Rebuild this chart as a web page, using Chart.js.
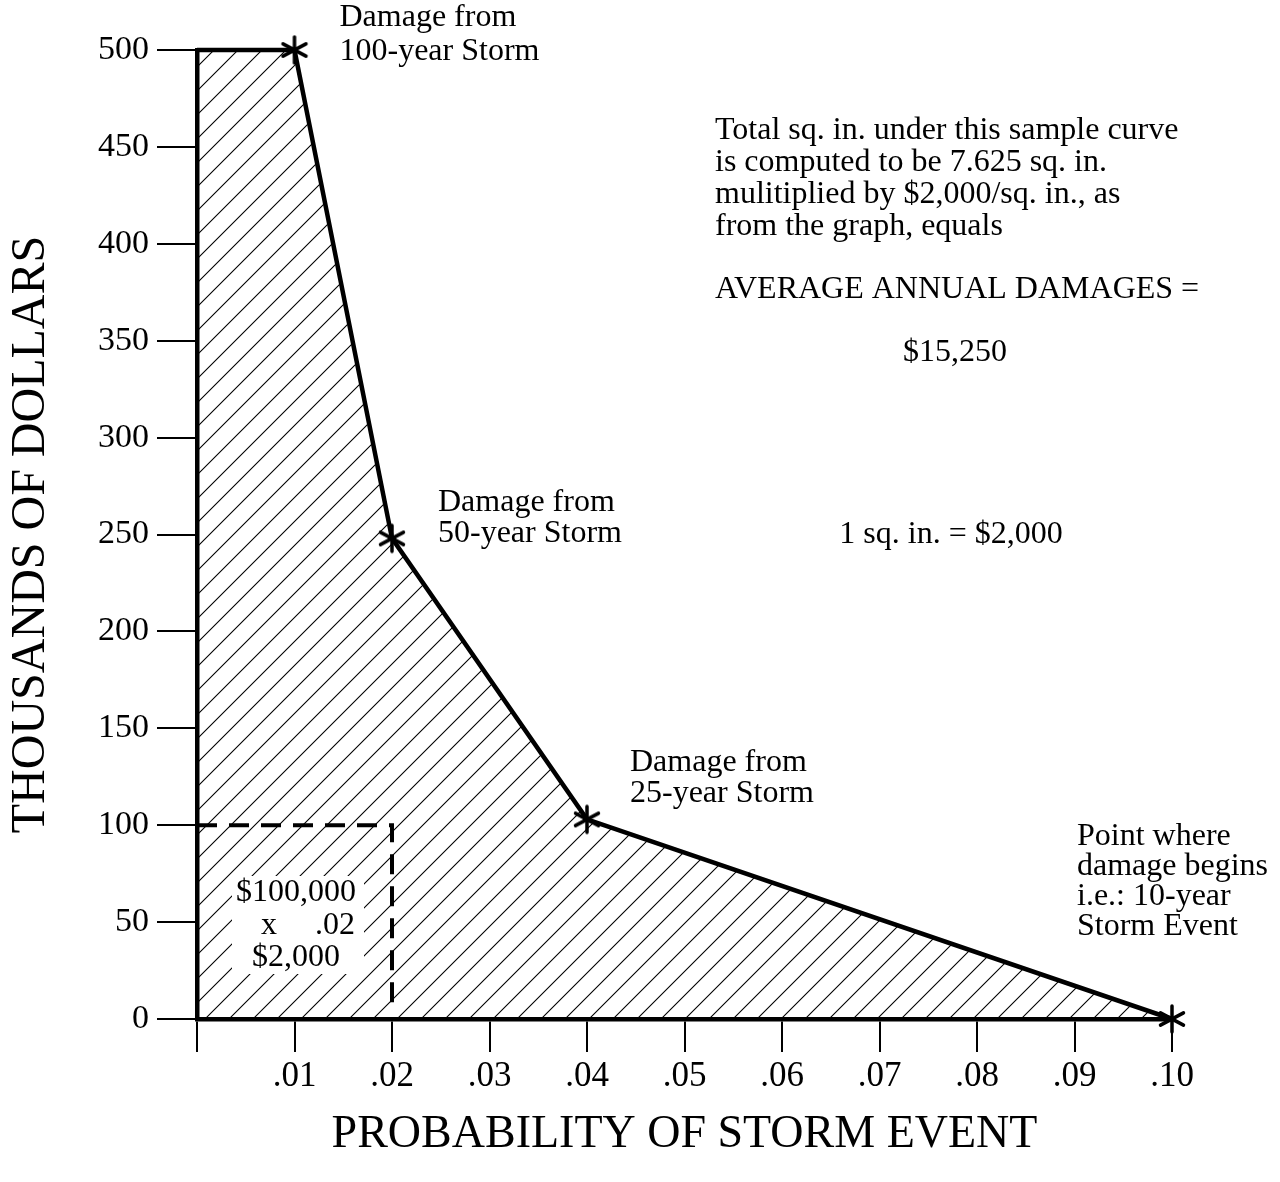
<!DOCTYPE html>
<html>
<head>
<meta charset="utf-8">
<title>Average annual damages</title>
<script src="https://cdn.jsdelivr.net/npm/chart.js@4"></script>
<style>
  body { margin: 0; background: #fff; }
  canvas { display: block; }
</style>
</head>
<body>
<canvas id="chart" width="1280" height="1182"></canvas>
<script>
// damage-probability curve (thousands of dollars)
const probabilities = [0, 0.01, 0.02, 0.04, 0.10];
const damages = [500, 500, 248, 103, 0];

// worked example: $100,000 x .02
const exampleX = [0, 0.02, 0.02];
const exampleY = [100, 100, 7];

const xTickLabels = ['', '.01', '.02', '.03', '.04', '.05', '.06', '.07', '.08', '.09', '.10'];

const stormLabels = [
  ['Damage from', '100-year Storm'],
  ['Damage from', '50-year Storm'],
  ['Damage from', '25-year Storm'],
  ['Point where', 'damage begins', 'i.e.: 10-year', 'Storm Event'],
];

const noteLines = [
  'Total sq. in. under this sample curve',
  'is computed to be 7.625 sq. in.',
  'mulitiplied by $2,000/sq. in., as',
  'from the graph, equals',
];
const totalLabel = 'AVERAGE ANNUAL DAMAGES =';
const totalValue = '$15,250';
const scaleNote = '1 sq. in. = $2,000';
const exampleLines = ['$100,000', 'x', '.02', '$2,000'];

const FONT = "'Liberation Serif', 'Times New Roman', serif";

// hatch fill for the area under the curve
const makeHatch = () => {
  const tile = document.createElement('canvas');
  tile.width = 24;
  tile.height = 24;
  const t = tile.getContext('2d');
  t.strokeStyle = '#000';
  t.lineWidth = 1.1;
  t.beginPath();
  t.moveTo(0, 24); t.lineTo(24, 0);
  t.moveTo(-2, 2); t.lineTo(2, -2);
  t.moveTo(22, 26); t.lineTo(26, 22);
  t.stroke();
  return t.createPattern(tile, 'repeat');
};

// six-armed asterisk marker
const makeStar = () => {
  const c = document.createElement('canvas');
  c.width = 32;
  c.height = 32;
  const g = c.getContext('2d');
  g.strokeStyle = '#000';
  g.lineWidth = 3.5;
  g.lineCap = 'round';
  g.translate(16, 16);
  [90, 28, -28].forEach((deg) => {
    const a = deg * Math.PI / 180;
    g.beginPath();
    g.moveTo(-Math.cos(a) * 13, -Math.sin(a) * 13);
    g.lineTo(Math.cos(a) * 13, Math.sin(a) * 13);
    g.stroke();
  });
  return c;
};

const textPlugin = {
  id: 'textNotes',
  afterDatasetsDraw(chart) {
    const { ctx, scales: { x, y } } = chart;
    ctx.save();
    ctx.fillStyle = '#000';
    ctx.font = '32px ' + FONT;
    ctx.textBaseline = 'middle';
    ctx.textAlign = 'left';

    // labels next to each storm point
    const offsets = [[45, -32, 34], [46, -36, 31], [43, -57, 31], [-95, -182, 29.7]];
    stormLabels.forEach((lines, i) => {
      const px = x.getPixelForValue(probabilities[i + 1]);
      const py = y.getPixelForValue(damages[i + 1]);
      const [dx, dy, gap] = offsets[i];
      lines.forEach((line, j) => ctx.fillText(line, px + dx, py + dy + j * gap));
    });

    // explanation block
    noteLines.forEach((line, j) => ctx.fillText(line, 715, 131 + j * 32));
    ctx.fillText(totalLabel, 715, 290);
    ctx.textAlign = 'center';
    ctx.fillText(totalValue, 955, 353);
    ctx.fillText(scaleNote, 951, 535);

    // example box
    ctx.fillStyle = '#fff';
    ctx.fillRect(232, 876, 132, 98);
    ctx.fillStyle = '#000';
    ctx.fillText(exampleLines[0], 296, 893);
    ctx.fillText(exampleLines[1], 269, 926);
    ctx.textAlign = 'right';
    ctx.fillText(exampleLines[2], 355, 926);
    ctx.textAlign = 'center';
    ctx.fillText(exampleLines[3], 296, 958);
    ctx.restore();
  },
};

const star = makeStar();

new Chart(document.getElementById('chart'), {
  type: 'line',
  data: {
    datasets: [
      {
        data: probabilities.map((p, i) => ({ x: p, y: damages[i] })),
        borderColor: '#000',
        borderWidth: 4.5,
        backgroundColor: makeHatch(),
        fill: 'origin',
        pointStyle: star,
        pointRadius: [0, 13, 13, 13, 13],
        pointHoverRadius: [0, 13, 13, 13, 13],
        tension: 0,
        clip: false,
      },
      {
        data: exampleX.map((p, i) => ({ x: p, y: exampleY[i] })),
        borderColor: '#000',
        borderWidth: 4,
        borderDash: [20, 12],
        pointRadius: 0,
        fill: false,
        tension: 0,
      },
    ],
  },
  options: {
    responsive: false,
    animation: false,
    events: [],
    layout: { padding: { top: 50, right: 108, left: 0, bottom: 0 } },
    plugins: {
      legend: { display: false },
      tooltip: { enabled: false },
    },
    scales: {
      x: {
        type: 'linear',
        min: 0,
        max: 0.1,
        afterFit: (scale) => { scale.height = 163; },
        border: { display: true, color: '#000', width: 4.5 },
        grid: { drawOnChartArea: false, drawTicks: true, tickLength: 33, color: '#000', lineWidth: 2 },
        ticks: {
          stepSize: 0.01,
          color: '#000',
          padding: 4,
          maxRotation: 0,
          autoSkip: false,
          font: { family: FONT, size: 35 },
          callback: (value, index) => xTickLabels[index],
        },
        title: {
          display: true,
          text: 'PROBABILITY OF STORM EVENT',
          color: '#000',
          font: { family: FONT, size: 46 },
          padding: { top: 0, bottom: 19 },
        },
      },
      y: {
        min: 0,
        max: 500,
        afterFit: (scale) => { scale.width = 197; },
        border: { display: true, color: '#000', width: 4.5 },
        grid: { drawOnChartArea: false, drawTicks: true, tickLength: 40, color: '#000', lineWidth: 2 },
        ticks: {
          stepSize: 50,
          color: '#000',
          padding: 8,
          font: { family: FONT, size: 34 },
        },
        title: {
          display: true,
          text: 'THOUSANDS OF DOLLARS',
          color: '#000',
          font: { family: FONT, size: 48 },
          padding: { top: 3, bottom: 0 },
        },
      },
    },
  },
  plugins: [textPlugin],
});
</script>
</body>
</html>
